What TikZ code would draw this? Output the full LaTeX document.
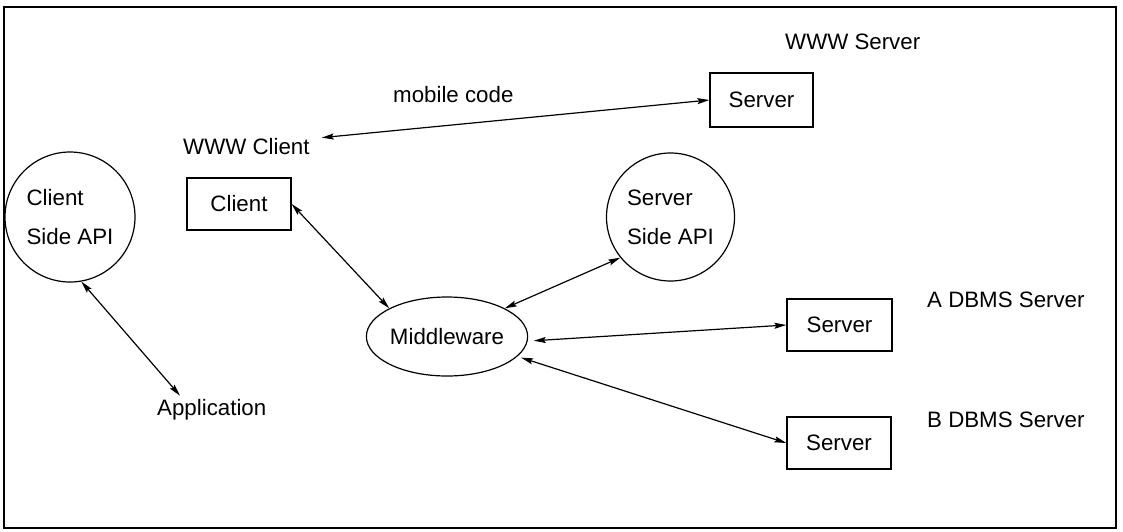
\documentclass[tikz,border=0pt]{standalone}
\usepackage{fontspec}
\setmainfont{Liberation Sans}
\usetikzlibrary{arrows.meta,calc,shapes.geometric}
\begin{document}
\begin{tikzpicture}[x=1pt,y=-1pt,
  every node/.style={font=\fontsize{22.3}{39}\selectfont, inner sep=0pt},
  box/.style={draw, line width=1.3pt, minimum width=104pt, minimum height=52pt},
  api/.style={draw, circle, line width=1.2pt, align=left},
  lbl/.style={anchor=base west},
  link/.style={line width=1.2pt, {Stealth[length=12pt,width=6pt,inset=2pt]}-{Stealth[length=12pt,width=6pt,inset=2pt]}}
]
\useasboundingbox (0,0) rectangle (1123,531);
\draw[line width=1.5pt] (4,7) rectangle (1116,528);

% nodes
\node[api, minimum size=130pt] (csa) at (70,217) {Client\\Side API};
\node[api, minimum size=128pt] (ssa) at (670.5,217) {Server\\Side API};
\node[box] (cl) at (239,204) {Client};
\node[box, minimum width=103pt, minimum height=54pt] (ws) at (761.5,100) {Server};
\node[box, minimum width=105pt] (as) at (839.5,325) {Server};
\node[box] (bs) at (839,443) {Server};
\node[draw, ellipse, line width=1.2pt, minimum width=156pt, minimum height=79pt] (mw) at (447,336.5) {Middleware};

% labels
\node[lbl] (wsl) at (785,49) {WWW Server};
\node[lbl] (wcl) at (183,154) {WWW Client};
\node[lbl] (mc) at (393,102) {mobile code};
\node[lbl] (al) at (927,307) {A DBMS Server};
\node[lbl] (bl) at (927,427) {B DBMS Server};
\node[lbl] (app) at (157,415) {Application};

% connectors
\draw[link] ($(wcl.north east)+(12,0)$) -- (ws.west);
\draw[link] (csa.-80) -- ($(app.north west)+(23,-3)$);
\draw[link] (cl.east) -- (mw.154);
\draw[link] (ssa.219) -- (mw.26);
\draw[link] ($(mw.-3)+(6,0)$) -- (as.west);
\draw[link] ($(mw.-17)+(5,0)$) -- (bs.west);
\end{tikzpicture}
\end{document}
